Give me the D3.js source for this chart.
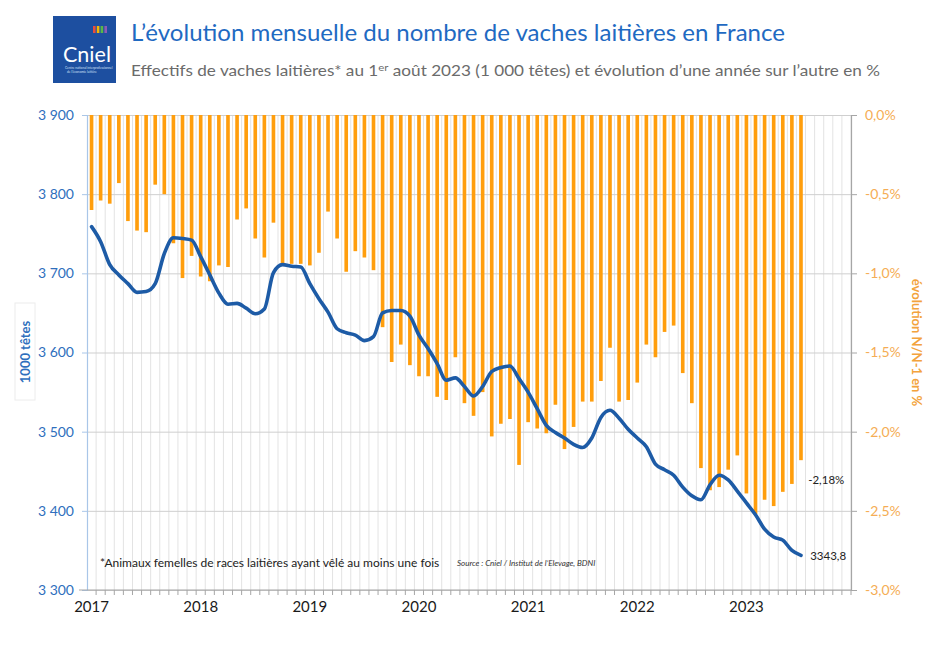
<!DOCTYPE html>
<html>
<head>
<meta charset="utf-8">
<script src="https://cdn.jsdelivr.net/npm/d3@7"></script>
<style>
  body { margin: 0; background: #fff; }
  svg { font-family: Lato, 'Open Sans', sans-serif; }
</style>
</head>
<body>
<svg width="941" height="650"></svg>
<script>
// effectifs de vaches laitières (1 000 têtes), janv. 2017 -> juil. 2023
const effectifs = [
  3759, 3740, 3711, 3698, 3687, 3676, 3677, 3687, 3725, 3745, 3744, 3742,
  3721, 3698, 3675, 3661, 3662, 3656, 3649, 3655, 3701, 3711, 3709, 3708,
  3687, 3668, 3651, 3630, 3625, 3622, 3615, 3620, 3650, 3653, 3653, 3646,
  3622, 3605, 3586, 3565, 3568, 3557, 3545, 3557, 3576, 3581, 3583, 3567,
  3550, 3529, 3508, 3499, 3492, 3484, 3480, 3492, 3518, 3527, 3517, 3503,
  3492, 3481, 3459, 3452, 3445, 3430, 3419, 3414, 3433, 3445, 3439, 3425,
  3410, 3395, 3377, 3367, 3363, 3350, 3343.8
];

// évolution N/N-1 en %
const evolution = [
  -0.60, -0.54, -0.56, -0.43, -0.67, -0.73, -0.74, -0.44, -0.50, -0.81, -1.03, -0.89,
  -1.02, -1.05, -0.95, -0.96, -0.66, -0.59, -0.78, -0.90, -0.68, -0.94, -0.94, -0.94,
  -0.95, -0.87, -0.61, -0.78, -0.99, -0.86, -0.90, -0.98, -1.34, -1.56, -1.45, -1.58,
  -1.65, -1.65, -1.78, -1.80, -1.53, -1.82, -1.90, -1.75, -2.03, -1.95, -1.92, -2.21,
  -1.94, -1.98, -2.01, -1.83, -2.11, -1.97, -1.81, -1.81, -1.68, -1.47, -1.81, -1.80,
  -1.69, -1.45, -1.53, -1.37, -1.33, -1.63, -1.82, -2.23, -2.37, -2.35, -2.24, -2.15,
  -2.39, -2.52, -2.43, -2.47, -2.38, -2.33, -2.18
];

const years = [2017, 2018, 2019, 2020, 2021, 2022, 2023];
const leftTicks = [3300, 3400, 3500, 3600, 3700, 3800, 3900];
const rightTicks = [0, -0.5, -1, -1.5, -2, -2.5, -3];

// axe des mois : janv. 2017 -> déc. 2023
const months = d3.timeMonths(new Date(2017, 0, 1), new Date(2024, 0, 1));
const data = effectifs.map((v, i) => ({ month: months[i], value: v, evol: evolution[i] }));

const svg = d3.select('svg');

const plotLeft = 87, plotRight = 851, plotTop = 115, plotBottom = 590;

const x = d3.scaleBand()
  .domain(months)
  .range([plotLeft, plotRight])
  .paddingInner(0.6)
  .paddingOuter(0.3);

const xStep = x.step();
const yLeft = d3.scaleLinear().domain([3300, 3900]).range([plotBottom, plotTop]);
const yRight = d3.scaleLinear().domain([-3, 0]).range([plotBottom, plotTop]);

const frNum = (d) => d3.format(',')(d).replace(',', ' ');
const frPct = (d, p = 1) => d3.format(`.${p}f`)(d).replace('.', ',').replace('\u2212', '-') + '%';
// limite droite de chaque mois
const edge = (d) => x(d) + x.bandwidth() / 2 + xStep / 2;

// grille verticale (un trait par mois)
svg.append('g')
  .selectAll('line')
  .data(months)
  .enter()
  .append('line')
  .attr('x1', edge)
  .attr('x2', edge)
  .attr('y1', plotTop)
  .attr('y2', plotBottom)
  .attr('stroke', '#e3e3e3')
  .attr('stroke-width', 1);

// grille horizontale
svg.append('g')
  .attr('transform', `translate(${plotLeft}, 0)`)
  .call(d3.axisLeft(yLeft).tickValues(leftTicks).tickSize(-(plotRight - plotLeft)).tickFormat(''))
  .call((g) => g.select('.domain').remove())
  .call((g) => g.selectAll('line').attr('stroke', '#cfcfcf'));

// barres : évolution
svg.append('g')
  .selectAll('rect')
  .data(data)
  .enter()
  .append('rect')
  .attr('x', (d) => x(d.month))
  .attr('y', yRight(0))
  .attr('width', x.bandwidth())
  .attr('height', (d) => yRight(d.evol) - yRight(0))
  .attr('fill', '#ff9e0d');

// courbe : effectifs
const line = d3.line()
  .x((d) => x(d.month) + x.bandwidth() / 2)
  .y((d) => yLeft(d.value))
  .curve(d3.curveMonotoneX);

svg.append('path')
  .datum(data)
  .attr('d', line)
  .attr('fill', 'none')
  .attr('stroke', '#1d5ba6')
  .attr('stroke-width', 3.6)
  .attr('stroke-linejoin', 'round')
  .attr('stroke-linecap', 'round');

// axe gauche
svg.append('g')
  .attr('transform', `translate(${plotLeft}, 0)`)
  .call(d3.axisLeft(yLeft).tickValues(leftTicks).tickSize(5).tickPadding(8).tickFormat(frNum))
  .call((g) => g.select('.domain').attr('stroke', '#a9c6e8').attr('stroke-width', 1.2))
  .call((g) => g.selectAll('.tick line').attr('stroke', '#a9c6e8'))
  .call((g) => g.selectAll('text')
    .attr('fill', '#2f6fbd')
    .style('font-size', '14px')
    .style('font-family', 'Lato, sans-serif'));

// axe droit
svg.append('g')
  .attr('transform', `translate(${plotRight}, 0)`)
  .call(d3.axisRight(yRight).tickValues(rightTicks).tickSize(6).tickPadding(8).tickFormat((d) => frPct(d)))
  .call((g) => g.select('.domain').attr('stroke', '#a6a6a6').attr('stroke-width', 1.2))
  .call((g) => g.selectAll('.tick line').attr('stroke', '#a6a6a6'))
  .call((g) => g.selectAll('text')
    .attr('fill', '#f5ad55')
    .style('font-size', '14px')
    .style('font-family', 'Lato, sans-serif'));

// axe des x
svg.append('line')
  .attr('x1', plotLeft - 8)
  .attr('x2', plotRight)
  .attr('y1', plotBottom)
  .attr('y2', plotBottom)
  .attr('stroke', '#a6a6a6')
  .attr('stroke-width', 1.2);

svg.append('g')
  .selectAll('line')
  .data(months)
  .enter()
  .append('line')
  .attr('x1', edge)
  .attr('x2', edge)
  .attr('y1', plotBottom)
  .attr('y2', plotBottom + 5)
  .attr('stroke', '#a6a6a6');

svg.append('g')
  .selectAll('text')
  .data(years)
  .enter()
  .append('text')
  .attr('x', (d) => x(months.find((m) => m.getFullYear() === d)) + x.bandwidth() / 2)
  .attr('y', plotBottom + 22)
  .attr('text-anchor', 'middle')
  .attr('fill', '#1a1a1a')
  .style('font-size', '15px')
  .text((d) => d);

// titres d'axes
svg.append('rect')
  .attr('x', 15)
  .attr('y', 303)
  .attr('width', 20)
  .attr('height', 97)
  .attr('fill', 'none')
  .attr('stroke', '#ececec');

svg.append('text')
  .attr('transform', `translate(30, 352) rotate(-90)`)
  .attr('text-anchor', 'middle')
  .attr('fill', '#2f6fbd')
  .style('font-size', '13px')
  .style('font-weight', 'bold')
  .text('1000 têtes');

svg.append('text')
  .attr('transform', `translate(912, ${(plotTop + plotBottom) / 2 - 10}) rotate(90)`)
  .attr('text-anchor', 'middle')
  .attr('fill', '#f3a33c')
  .style('font-size', '13px')
  .style('font-weight', 'bold')
  .text('évolution N/N-1 en %');

// étiquettes des dernières valeurs
const last = data[data.length - 1];
svg.append('text')
  .attr('x', x(last.month) + 9)
  .attr('y', yRight(last.evol) + 24)
  .attr('fill', '#222')
  .style('font-size', '11.5px')
  .text(frPct(last.evol, 2));

svg.append('text')
  .attr('x', x(last.month) + 11)
  .attr('y', yLeft(last.value) + 5)
  .attr('fill', '#222')
  .style('font-size', '11.5px')
  .text(String(last.value).replace('.', ','));

// notes
svg.append('text')
  .attr('x', 100)
  .attr('y', 567)
  .attr('fill', '#222')
  .style('font-size', '12px')
  .text('*Animaux femelles de races laitières ayant vêlé au moins une fois');

svg.append('text')
  .attr('x', 457)
  .attr('y', 566)
  .attr('fill', '#333')
  .style('font-size', '8px')
  .style('font-style', 'italic')
  .text('Source : Cniel / Institut de l\u2019Elevage, BDNI');

// logo
const logo = svg.append('g').attr('transform', 'translate(53, 16)');
logo.append('rect').attr('width', 63).attr('height', 67).attr('fill', '#1d4fa0');
[['#e94e3c', 0], ['#f5b700', 1], ['#59b847', 2], ['#8e5ab5', 3]].forEach(([c, i]) => {
  logo.append('rect').attr('x', 40 + i * 3.8).attr('y', 10).attr('width', 2.6).attr('height', 7).attr('fill', c);
});
logo.append('text')
  .attr('x', 10)
  .attr('y', 46)
  .attr('fill', '#fff')
  .attr('textLength', 48)
  .attr('lengthAdjust', 'spacingAndGlyphs')
  .style('font-size', '22px')
  .text('Cniel');
logo.append('text')
  .attr('x', 12)
  .attr('y', 53)
  .attr('fill', '#cfe0f5')
  .style('font-size', '3.2px')
  .text('Centre national interprofessionnel');
logo.append('text')
  .attr('x', 14)
  .attr('y', 57)
  .attr('fill', '#cfe0f5')
  .style('font-size', '3.2px')
  .text('de l\u2019économie laitière');

// titre et sous-titre
svg.append('text')
  .attr('x', 131)
  .attr('y', 41)
  .attr('fill', '#1f6ac2')
  .attr('textLength', 654)
  .attr('lengthAdjust', 'spacingAndGlyphs')
  .style('font-size', '24px')
  .text('L\u2019évolution mensuelle du nombre de vaches laitières en France');

const sub = svg.append('text')
  .attr('x', 131)
  .attr('y', 76)
  .attr('fill', '#6b6b6b')
  .attr('textLength', 749)
  .attr('lengthAdjust', 'spacingAndGlyphs')
  .style('font-size', '15px');
sub.append('tspan').text('Effectifs de vaches laitières* au 1');
sub.append('tspan').attr('dy', -5).style('font-size', '10px').text('er');
sub.append('tspan').attr('dy', 5).text(' août 2023 (1 000 têtes) et évolution d\u2019une année sur l\u2019autre en %');
</script>
</body>
</html>
